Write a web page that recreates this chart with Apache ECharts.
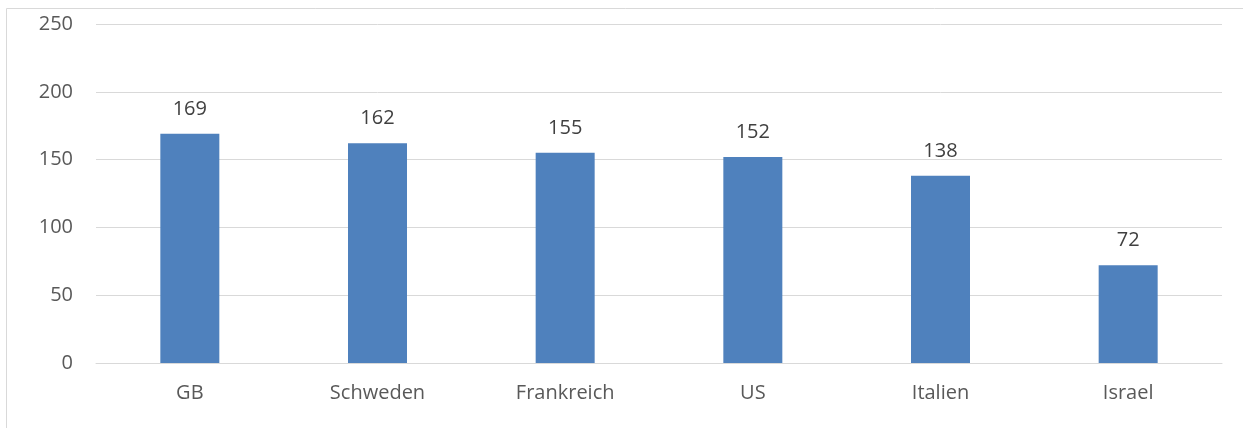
<!DOCTYPE html>
<html><head><meta charset="utf-8">
<script src="https://cdn.jsdelivr.net/npm/echarts@6/dist/echarts.min.js"></script>
<style>html,body{margin:0;padding:0;background:#fff}#c{width:1243px;height:428px}</style>
</head><body><div id="c"></div>
<script>
const categories = ["GB", "Schweden", "Frankreich", "US", "Italien", "Israel"];
const values = [169, 162, 155, 152, 138, 72];
const yTicks = [0, 50, 100, 150, 200, 250];

const chart = echarts.init(document.getElementById('c'));
chart.setOption({
  animation: false,
  textStyle: { fontFamily: "Open Sans, Liberation Sans, sans-serif" },
  graphic: [{
    type: 'rect', shape: { x: 6.5, y: 8.5, width: 1400, height: 600 },
    style: { fill: 'none', stroke: '#d9d9d9', lineWidth: 1 }, silent: true, z: -1
  }],
  grid: { left: 96, right: 21, top: 24, bottom: 65, containLabel: false },
  xAxis: {
    type: 'category', data: categories,
    axisLine: { lineStyle: { color: '#d9d9d9', width: 1 } },
    axisTick: { show: false },
    axisLabel: { color: '#595959', fontSize: 20, margin: 20 }
  },
  yAxis: {
    type: 'value', min: yTicks[0], max: yTicks[yTicks.length - 1], interval: 50,
    axisLine: { show: false }, axisTick: { show: false },
    splitLine: { lineStyle: { color: '#d9d9d9', width: 1 } },
    axisLabel: { color: '#595959', fontSize: 20, margin: 23 }
  },
  series: [{
    type: 'bar', data: values, barWidth: 59,
    itemStyle: { color: '#4F81BD' },
    label: { show: true, position: 'top', distance: 15, color: '#404040', fontSize: 20 }
  }]
});
</script></body></html>
